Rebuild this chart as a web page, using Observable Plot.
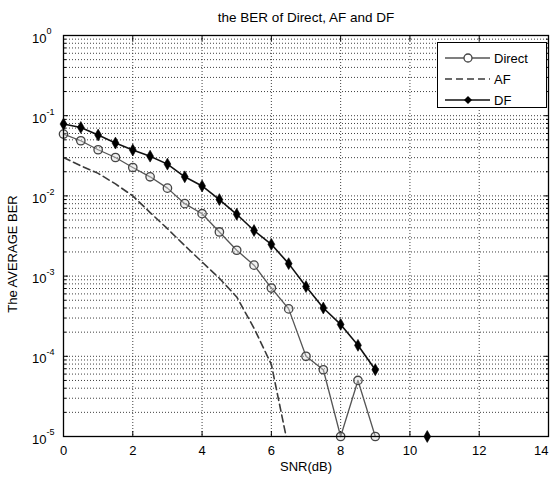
<!DOCTYPE html>
<html><head><meta charset="utf-8">
<script src="https://cdn.jsdelivr.net/npm/d3@7"></script>
<script src="https://cdn.jsdelivr.net/npm/@observablehq/plot@0.6"></script>
<style>
body{margin:0;background:#fff;}
#wrap{position:relative;width:552px;height:477px;font-family:"Liberation Sans",Arial,sans-serif;}
#legend{position:absolute;left:437px;top:42px;width:110px;height:66px;border:1.5px solid #000;background:#fff;box-sizing:border-box;}
#legend svg{position:absolute;left:0;top:0;}
</style></head><body><div id="wrap"></div>
<script>
const snr = [0,0.5,1,1.5,2,2.5,3,3.5,4,4.5,5,5.5,6,6.5,7,7.5,8,8.5,9,9.5,10,10.5];
const direct = [0.059,0.0487,0.0376,0.0301,0.0226,0.0173,0.0125,0.0080,0.0060,0.00355,0.0021,0.00137,0.00071,0.00039,0.0001,0.000068,0.00001,0.00005,0.00001,null,null,null];
const af = [0.0301,0.0237,0.0191,0.0141,0.0100,0.0062,0.0039,0.0024,0.0015,0.00094,0.00055,0.000224,0.000079,0.000007,null,null,null,null,null,null,null,null];
const df = [0.0787,0.0714,0.0574,0.0456,0.0373,0.0313,0.0249,0.0173,0.0133,0.0090,0.0059,0.0037,0.00249,0.00143,0.00074,0.00040,0.00025,0.000137,0.000068,null,null,0.00001];
const seriesNames = ["Direct","AF","DF"];
const xTicks = [0,2,4,6,8,10,12,14];
const xTickLabels = ["0","2","4","6","8","10","12","14"];
const xGrid = [2,4,6,8,10,12];
const yMajor = [1e-5,1e-4,1e-3,1e-2,1e-1,1];
const yExp = ["-5","-4","-3","-2","-1","0"];
const titleText = "the BER of Direct, AF and DF";
const xLabel = "SNR(dB)";
const yLabel = "The AVERAGE BER";

const rows = snr.map((x,i)=>({x, direct:direct[i], af:af[i], df:df[i]}));
const yMinor = [];
for (let k=0;k<5;k++) for (let m=2;m<=9;m++) yMinor.push(m*yMajor[k]);
const yGrid = yMinor.concat(yMajor.slice(1,5));

const gridStyle = {stroke:"#2a2a2a", strokeDasharray:"1,2", strokeWidth:1, strokeOpacity:0.9};
const noLab = {label:null, tickFormat:()=>""};

const chart = Plot.plot({
  width:552, height:477,
  marginLeft:63, marginRight:4, marginTop:35, marginBottom:41,
  style:{fontFamily:'"Liberation Sans",Arial,sans-serif', fontSize:"13px", background:"#fff", color:"#000"},
  x:{domain:[0,14]},
  y:{type:"log", domain:[1e-5,1]},
  marks:[
    Plot.ruleY(yGrid, gridStyle),
    Plot.ruleX(xGrid, gridStyle),
    Plot.axisY(yMajor, {anchor:"left", tickSize:-5, ...noLab}),
    Plot.axisY(yMinor, {anchor:"left", tickSize:-3, ...noLab}),
    Plot.axisY(yMajor, {anchor:"right", tickSize:-5, ...noLab}),
    Plot.axisY(yMinor, {anchor:"right", tickSize:-3, ...noLab}),
    Plot.axisX(xTicks, {anchor:"bottom", tickSize:-5, ...noLab}),
    Plot.axisX(xTicks, {anchor:"top", tickSize:-5, ...noLab}),
    Plot.text(xTicks, {x:d=>d, frameAnchor:"bottom", lineAnchor:"middle", text:(d,i)=>xTickLabels[i], dy:14, fontSize:13}),
    Plot.text(yMajor, {y:d=>d, frameAnchor:"left", text:()=>"10", textAnchor:"end", dx:-17, dy:3, fontSize:13}),
    Plot.text(yMajor, {y:d=>d, frameAnchor:"left", text:(d,i)=>yExp[i], textAnchor:"start", dx:-17, dy:-4, fontSize:9}),
    Plot.text([yLabel], {frameAnchor:"left", textAnchor:"middle", lineAnchor:"middle", rotate:-90, dx:-51, dy:18, fontSize:13}),
    Plot.text([xLabel], {frameAnchor:"bottom", lineAnchor:"middle", dy:30, fontSize:13}),
    Plot.text([titleText], {frameAnchor:"top", lineAnchor:"middle", dy:-18, fontSize:13.5}),
    Plot.line(rows, {x:"x", y:"af", stroke:"#3a3a3a", strokeWidth:1.6, strokeDasharray:"7,4", clip:true}),
    Plot.line(rows, {x:"x", y:"direct", stroke:"#555", strokeWidth:1.3}),
    Plot.dot(rows.filter(d=>d.direct!=null), {x:"x", y:"direct", symbol:"circle", r:4.2, stroke:"#444", strokeWidth:1.3, fill:"#ddd", fillOpacity:0.4}),
    Plot.line(rows, {x:"x", y:"df", stroke:"#111", strokeWidth:1.6}),
    Plot.dot(rows.filter(d=>d.df!=null), {x:"x", y:"df", symbol:"diamond", r:3.6, fill:"#000", stroke:"#000", strokeWidth:0.6}),
    Plot.frame({stroke:"#000", strokeWidth:1.3})
  ]
});
// keep the last x tick label ("14") inside the picture
chart.querySelectorAll("text").forEach(t=>{ if (t.textContent==="14") t.setAttribute("text-anchor","end"); });
const wrap = document.getElementById("wrap");
wrap.appendChild(chart);

// legend
const lg = document.createElement("div");
lg.id = "legend";
const ns = "http://www.w3.org/2000/svg";
const sv = document.createElementNS(ns,"svg");
sv.setAttribute("width",110); sv.setAttribute("height",66);
const styles = [
  {dash:null, stroke:"#555", marker:"circle"},
  {dash:"7,4", stroke:"#3a3a3a", marker:null},
  {dash:null, stroke:"#111", marker:"diamond"}
];
seriesNames.forEach((name,i)=>{
  const y = 15 + i*21;
  const ln = document.createElementNS(ns,"line");
  ln.setAttribute("x1",7); ln.setAttribute("x2",52); ln.setAttribute("y1",y); ln.setAttribute("y2",y);
  ln.setAttribute("stroke",styles[i].stroke); ln.setAttribute("stroke-width",1.5);
  if (styles[i].dash) ln.setAttribute("stroke-dasharray",styles[i].dash);
  sv.appendChild(ln);
  if (styles[i].marker==="circle") {
    const c = document.createElementNS(ns,"circle");
    c.setAttribute("cx",30); c.setAttribute("cy",y); c.setAttribute("r",4);
    c.setAttribute("fill","#fff"); c.setAttribute("stroke","#444"); c.setAttribute("stroke-width",1.3);
    sv.appendChild(c);
  } else if (styles[i].marker==="diamond") {
    const p = document.createElementNS(ns,"path");
    p.setAttribute("d",`M30,${y-4}L34,${y}L30,${y+4}L26,${y}Z`);
    p.setAttribute("fill","#000");
    sv.appendChild(p);
  }
  const t = document.createElementNS(ns,"text");
  t.setAttribute("x",56); t.setAttribute("y",y); t.setAttribute("dy","0.35em");
  t.setAttribute("font-size",13); t.setAttribute("font-family",'"Liberation Sans",Arial,sans-serif');
  t.textContent = name;
  sv.appendChild(t);
});
lg.appendChild(sv);
wrap.appendChild(lg);
</script>
</body></html>
